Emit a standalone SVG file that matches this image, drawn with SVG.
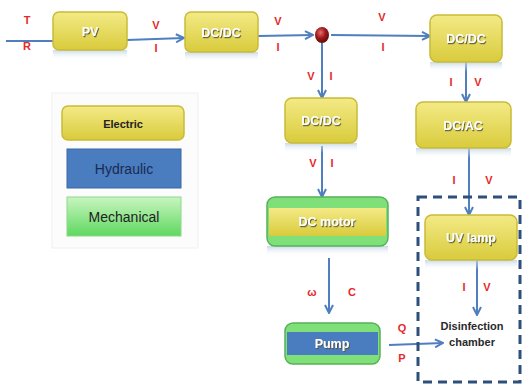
<svg xmlns="http://www.w3.org/2000/svg" width="523" height="387" viewBox="0 0 523 387">
<defs>
<linearGradient id="yel" x1="0" y1="0" x2="0" y2="1">
<stop offset="0" stop-color="#f3ea86"/><stop offset="1" stop-color="#d9cb3c"/>
</linearGradient>
<linearGradient id="refl" x1="0" y1="0" x2="0" y2="1">
<stop offset="0" stop-color="#b9cfe0" stop-opacity="0.8"/><stop offset="1" stop-color="#ffffff" stop-opacity="0"/>
</linearGradient>
<linearGradient id="grn" x1="0" y1="0" x2="0" y2="1">
<stop offset="0" stop-color="#c9f5c0"/><stop offset="1" stop-color="#5fd860"/>
</linearGradient>
<radialGradient id="dot" cx="0.4" cy="0.35" r="0.7">
<stop offset="0" stop-color="#e07070"/><stop offset="0.5" stop-color="#a01818"/><stop offset="1" stop-color="#5a0808"/>
</radialGradient>
<filter id="sh" x="-10%" y="-30%" width="130%" height="170%">
<feDropShadow dx="1" dy="1.2" stdDeviation="0.6" flood-color="#5a5530" flood-opacity="0.9"/>
</filter>
<marker id="arr" markerWidth="10" markerHeight="10" refX="9" refY="5" orient="auto" markerUnits="userSpaceOnUse">
<path d="M1,1 L9,5 L1,9" fill="none" stroke="#4f7fbf" stroke-width="2"/>
</marker>
</defs>
<style>
.box{fill:url(#yel);stroke:#c9bb38;stroke-width:1.5}
.refl{fill:url(#refl)}
.lbl{font-family:"Liberation Sans",Arial,sans-serif;font-weight:bold;font-size:12.5px;fill:#ffffff;text-anchor:middle;filter:url(#sh)}
.sig{font-family:"Liberation Sans",Arial,sans-serif;font-weight:bold;font-size:11px;fill:#e52a2a;text-anchor:middle}
.con{stroke:#4f7fbf;stroke-width:2;fill:none}
.leg{font-family:"Liberation Sans",Arial,sans-serif;text-anchor:middle}
</style>
<rect width="523" height="387" fill="#ffffff"/>

<g id="legend">
<rect x="52" y="93" width="146" height="155" fill="#fcfcfc" stroke="#f0f0f0"/>
<rect x="62" y="106" width="122" height="34" rx="6" class="box"/>
<text x="123" y="128" class="leg" font-size="11" font-weight="bold" fill="#222222">Electric</text>
<rect x="67" y="149" width="114" height="39" fill="#4a7cc0" stroke="#3a66a8"/>
<text x="124" y="174" class="leg" font-size="14" fill="#1a2a50">Hydraulic</text>
<rect x="67" y="197" width="114" height="39" fill="url(#grn)" stroke="#8ad88a"/>
<text x="124" y="222" class="leg" font-size="14" fill="#222222">Mechanical</text>
</g>

<g id="connectors">
<line x1="6" y1="41" x2="53" y2="41" class="con"/>
<line x1="127" y1="40" x2="184" y2="38" class="con" marker-end="url(#arr)"/>
<line x1="258" y1="36" x2="313" y2="35" class="con" marker-end="url(#arr)"/>
<line x1="331" y1="35" x2="430" y2="36" class="con" marker-end="url(#arr)"/>
<line x1="322" y1="43" x2="322" y2="98" class="con" marker-end="url(#arr)"/>
<line x1="466" y1="62" x2="466" y2="102" class="con" marker-end="url(#arr)"/>
<line x1="322" y1="146" x2="322" y2="197" class="con" marker-end="url(#arr)"/>
<line x1="469" y1="148" x2="469" y2="215" class="con" marker-end="url(#arr)"/>
<line x1="329" y1="258" x2="329" y2="313" class="con" marker-end="url(#arr)"/>
<line x1="477" y1="260" x2="477" y2="315" class="con" marker-end="url(#arr)"/>
<line x1="389" y1="345" x2="443" y2="343" class="con" marker-end="url(#arr)"/>
</g>

<g id="signals">
<text x="27" y="24" class="sig">T</text>
<text x="27" y="50" class="sig">R</text>
<text x="156" y="29" class="sig">V</text>
<text x="156" y="52" class="sig">I</text>
<text x="278" y="25" class="sig">V</text>
<text x="278" y="51" class="sig">I</text>
<text x="382" y="21" class="sig">V</text>
<text x="383" y="51" class="sig">I</text>
<text x="311" y="80" class="sig">V</text>
<text x="331" y="80" class="sig">I</text>
<text x="451" y="86" class="sig">I</text>
<text x="478" y="86" class="sig">V</text>
<text x="313" y="167" class="sig">V</text>
<text x="332" y="167" class="sig">I</text>
<text x="454" y="184" class="sig">I</text>
<text x="489" y="184" class="sig">V</text>
<text x="312" y="296" class="sig">ω</text>
<text x="352" y="296" class="sig">C</text>
<text x="464" y="291" class="sig">I</text>
<text x="487" y="291" class="sig">V</text>
<text x="402" y="332" class="sig">Q</text>
<text x="402" y="362" class="sig">P</text>
</g>

<g id="pv">
<rect x="53" y="50" width="74" height="10" class="refl"/>
<rect x="53" y="12" width="74" height="38" rx="6" class="box"/>
<text x="90" y="36" class="lbl">PV</text>
</g>
<g id="dcdc1">
<rect x="185" y="52" width="73" height="10" class="refl"/>
<rect x="185" y="12" width="73" height="40" rx="6" class="box"/>
<text x="221" y="37" class="lbl">DC/DC</text>
</g>
<g id="node">
<ellipse cx="322" cy="35" rx="7" ry="8" fill="url(#dot)"/>
</g>
<g id="dcdc2">
<rect x="430" y="62" width="72" height="10" class="refl"/>
<rect x="430" y="15" width="72" height="47" rx="7" class="box"/>
<text x="466" y="43" class="lbl">DC/DC</text>
</g>
<g id="dcdc3">
<rect x="285" y="143" width="72" height="10" class="refl"/>
<rect x="285" y="98" width="72" height="45" rx="7" class="box"/>
<text x="321" y="125" class="lbl">DC/DC</text>
</g>
<g id="dcac">
<rect x="416" y="148" width="95" height="10" class="refl"/>
<rect x="416" y="102" width="95" height="46" rx="7" class="box"/>
<text x="463" y="130" class="lbl">DC/AC</text>
</g>
<g id="motor">
<rect x="267" y="246" width="121" height="10" class="refl"/>
<rect x="267" y="197" width="121" height="49" rx="8" fill="#7fe07a" stroke="#5ab05a" stroke-width="1.5"/>
<rect x="269" y="208" width="117" height="28" fill="url(#yel)"/>
<text x="327" y="226" class="lbl">DC motor</text>
</g>
<g id="uvlamp">
<rect x="425" y="260" width="92" height="10" class="refl"/>
<rect x="425" y="215" width="92" height="45" rx="7" class="box"/>
<text x="471" y="242" class="lbl">UV lamp</text>
</g>
<g id="pump">
<rect x="285" y="323" width="95" height="41" rx="8" fill="#7fe07a" stroke="#5ab05a" stroke-width="1.5"/>
<rect x="287" y="332" width="91" height="23" fill="#4a7cc0"/>
<text x="332" y="348" class="lbl">Pump</text>
</g>
<g id="chamber">
<rect x="418" y="197" width="102" height="185" fill="none" stroke="#2c4f7c" stroke-width="3" stroke-dasharray="9,6"/>
<text x="472" y="330" class="leg" font-size="11" font-weight="bold" fill="#2a2a2a">Disinfection</text>
<text x="472" y="346" class="leg" font-size="11" font-weight="bold" fill="#2a2a2a">chamber</text>
</g>
</svg>
